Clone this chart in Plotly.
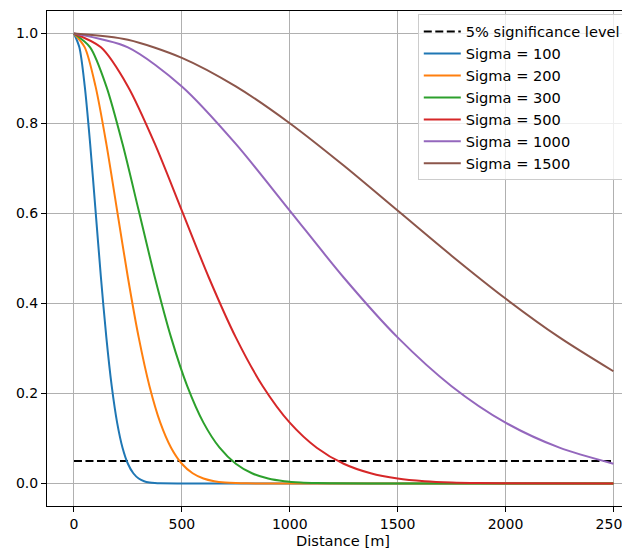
import plotly.graph_objects as go

# Threshold line (5% significance level)
threshold_x = [0, 2500]
threshold_y = [0.05, 0.05]

# Curves: distance [m] -> value
sigma100_x = [0, 25, 50, 75, 100, 125, 150, 175, 200, 225, 250, 275, 300, 325, 350, 375, 400,
              500, 1000, 1500, 2000, 2500]
sigma100_y = [1.0, 0.9692, 0.8825, 0.7548, 0.6065, 0.4578, 0.3247, 0.2163, 0.1353, 0.0796, 0.0439,
              0.0228, 0.0111, 0.0051, 0.0022, 0.0009, 0.0003, 0.0, 0.0, 0.0, 0.0, 0.0]

sigma200_x = [0, 50, 100, 150, 200, 250, 300, 350, 400, 450, 500, 550, 600, 650, 700, 750, 800,
              1000, 1500, 2000, 2500]
sigma200_y = [1.0, 0.9692, 0.8825, 0.7548, 0.6065, 0.4578, 0.3247, 0.2163, 0.1353, 0.0796, 0.0439,
              0.0228, 0.0111, 0.0051, 0.0022, 0.0009, 0.0003, 0.0, 0.0, 0.0, 0.0]

sigma300_x = [0, 75, 150, 225, 300, 375, 450, 525, 600, 675, 750, 825, 900, 975, 1050, 1125, 1200,
              1500, 2000, 2500]
sigma300_y = [1.0, 0.9692, 0.8825, 0.7548, 0.6065, 0.4578, 0.3247, 0.2163, 0.1353, 0.0796, 0.0439,
              0.0228, 0.0111, 0.0051, 0.0022, 0.0009, 0.0003, 0.0, 0.0, 0.0]

sigma500_x = [0, 125, 250, 375, 500, 625, 750, 875, 1000, 1125, 1250, 1375, 1500, 1625, 1750, 1875,
              2000, 2500]
sigma500_y = [1.0, 0.9692, 0.8825, 0.7548, 0.6065, 0.4578, 0.3247, 0.2163, 0.1353, 0.0796, 0.0439,
              0.0228, 0.0111, 0.0051, 0.0022, 0.0009, 0.0003, 0.0]

sigma1000_x = [0, 250, 500, 750, 1000, 1250, 1500, 1750, 2000, 2250, 2500]
sigma1000_y = [1.0, 0.9692, 0.8825, 0.7548, 0.6065, 0.4578, 0.3247, 0.2163, 0.1353, 0.0796, 0.0439]

sigma1500_x = [0, 250, 500, 750, 1000, 1250, 1500, 1750, 2000, 2250, 2500]
sigma1500_y = [1.0, 0.9862, 0.9460, 0.8825, 0.8007, 0.7066, 0.6065, 0.5063, 0.4111, 0.3247, 0.2494]

series_names = ["Sigma = 100", "Sigma = 200", "Sigma = 300", "Sigma = 500",
                "Sigma = 1000", "Sigma = 1500"]
series_x = [sigma100_x, sigma200_x, sigma300_x, sigma500_x, sigma1000_x, sigma1500_x]
series_y = [sigma100_y, sigma200_y, sigma300_y, sigma500_y, sigma1000_y, sigma1500_y]
colors = ["#1f77b4", "#ff7f0e", "#2ca02c", "#d62728", "#9467bd", "#8c564b"]

x_ticks = [0, 500, 1000, 1500, 2000, 2500]
y_ticks = [0.0, 0.2, 0.4, 0.6, 0.8, 1.0]
y_tick_labels = ["0.0", "0.2", "0.4", "0.6", "0.8", "1.0"]

FONT = "DejaVu Sans"
FS = 14

fig = go.Figure()
fig.add_trace(go.Scatter(x=threshold_x, y=threshold_y, mode="lines",
                         name="5% significance level",
                         line=dict(color="black", width=2, dash="8px,3.5px")))
for name, xs, ys, c in zip(series_names, series_x, series_y, colors):
    fig.add_trace(go.Scatter(x=xs, y=ys, mode="lines", name=name,
                             line=dict(color=c, width=2, shape="spline", smoothing=0.8)))

axis_common = dict(
    showgrid=True, gridcolor="#b0b0b0", gridwidth=1.1,
    zeroline=False, showline=True, linecolor="black", linewidth=1.1,
    ticks="outside", ticklen=5, tickwidth=1.1, tickcolor="black",
    tickfont=dict(family=FONT, size=FS, color="black"),
    automargin=False, ticklabeloverflow="allow",
)

# The page body adds an 8px offset, so the figure is 8px smaller than the window
fig.update_layout(
    width=622, height=545,
    margin=dict(l=39, r=0, t=3, b=47, autoexpand=False),
    paper_bgcolor="white", plot_bgcolor="white",
    font=dict(family=FONT, size=FS, color="black"),
    xaxis=dict(range=[-125, 2577], tickvals=x_ticks, mirror=True, **axis_common),
    yaxis=dict(range=[-0.05, 1.05], tickvals=y_ticks, ticktext=y_tick_labels,
               mirror=False, **axis_common),
    legend=dict(x=0.636, y=0.993, xanchor="left", yanchor="top", itemwidth=37,
                bgcolor="rgba(255,255,255,0.8)", bordercolor="#cccccc", borderwidth=1,
                font=dict(family=FONT, size=14.6, color="black")),
    annotations=[dict(text="Distance [m]", xref="paper", yref="paper",
                      x=0.508, y=-0.0687, xanchor="center", yanchor="middle",
                      showarrow=False, font=dict(family=FONT, size=14.6, color="black"))],
    showlegend=True,
)

fig.write_html("out.html")
